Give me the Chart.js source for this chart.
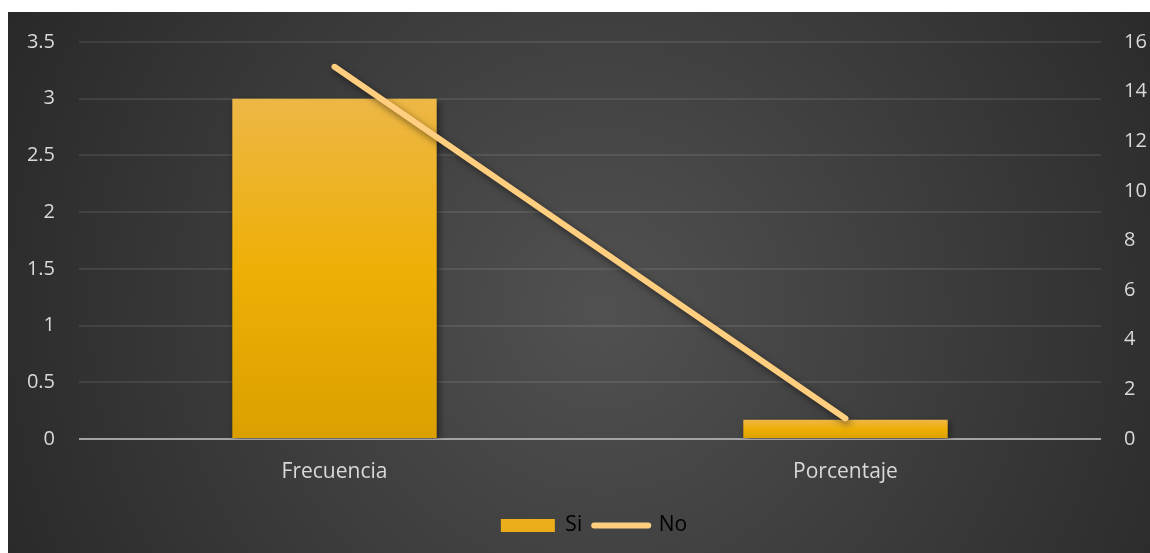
<!DOCTYPE html>
<html>
<head>
<meta charset="utf-8">
<script src="https://cdn.jsdelivr.net/npm/chart.js@4.4.0/dist/chart.umd.min.js"></script>
<style>
  html, body { margin: 0; padding: 0; background: #fff; }
  #wrap { position: absolute; left: 8px; top: 12px; width: 1142px; height: 541px; }
</style>
</head>
<body>
<div id="wrap"><canvas id="myChart"></canvas></div>
<script>
const categories = ['Frecuencia', 'Porcentaje'];
const siValues = [3, 0.17];
const noValues = [15, 0.83];
const leftTicks = [0, 0.5, 1, 1.5, 2, 2.5, 3, 3.5];
const rightTicks = [0, 2, 4, 6, 8, 10, 12, 14, 16];

const textColor = '#d9d9d9';
const lineColor = '#ffcf7f';
const fontFam = "'Open Sans', sans-serif";

// dark radial background
const bgPlugin = {
	id: 'bg',
	beforeDraw(chart){
		const c = chart.ctx, w = chart.width, h = chart.height;
		const g = c.createRadialGradient(w * 0.52, h * 0.55, 0, w * 0.52, h * 0.55, w * 0.62);
		g.addColorStop(0, '#515151');
		g.addColorStop(1, '#262626');
		c.save();
		c.fillStyle = g;
		c.fillRect(0, 0, w, h);
		c.restore();
	}
};

// soft shadow under the marks
const shadowPlugin = {
	id: 'shadow',
	beforeDatasetDraw(chart, args){
		const c = chart.ctx;
		c.save();
		c.shadowColor = 'rgba(0,0,0,0.5)';
		c.shadowBlur = 7;
		c.shadowOffsetX = 2;
		c.shadowOffsetY = 3;
	},
	afterDatasetDraw(chart){
		chart.ctx.restore();
	}
};

// legend sits a little right of centre in the original
const legendShift = {
	id: 'legendShift',
	afterLayout(chart){
		if (chart.legend) { chart.legend.left += 15; chart.legend.right += 15; }
	}
};

function barFill(context){
	const chart = context.chart;
	const y = chart.scales.y;
	if (!chart.chartArea || !y || context.raw == null) return '#ebae1a';
	const top = y.getPixelForValue(context.raw);
	const base = y.getPixelForValue(0);
	if (!isFinite(top) || base - top < 1) return '#ebae1a';
	const g = chart.ctx.createLinearGradient(0, top, 0, base);
	g.addColorStop(0, '#edb746');
	g.addColorStop(0.5, '#eeaf05');
	g.addColorStop(1, '#dba000');
	return g;
}

function noPad(scale){
	scale.paddingTop = 0;
	scale.paddingBottom = 0;
}

const ctx = document.getElementById('myChart').getContext('2d');
const myChart = new Chart(ctx, {
	type: 'bar',
	data: {
		labels: categories,
		datasets: [{
			label: 'Si',
			data: siValues,
			backgroundColor: barFill,
			borderWidth: 0,
			categoryPercentage: 0.8,
			barPercentage: 0.5,
			yAxisID: 'y',
			order: 1
		}, {
			type: 'line',
			label: 'No',
			data: noValues,
			borderColor: lineColor,
			backgroundColor: lineColor,
			borderWidth: 6,
			borderCapStyle: 'round',
			pointRadius: 0,
			pointHoverRadius: 0,
			yAxisID: 'y1',
			order: 0
		}]
	},
	options: {
		responsive: true,
		maintainAspectRatio: false,
		animation: false,
		layout: {
			padding: { top: 30, left: 0, right: 0, bottom: 7 }
		},
		plugins: {
			tooltip: { enabled: false },
			legend: {
				position: 'bottom',
				labels: {
					color: textColor,
					font: { family: fontFam, size: 21 },
					usePointStyle: true,
					boxHeight: 13,
					pointStyleWidth: 54,
					padding: 12,
					generateLabels: function(chart){
						return [{
							text: 'Si', fillStyle: '#ebae1a', strokeStyle: '#ebae1a', lineWidth: 0,
							pointStyle: 'rect', datasetIndex: 0, hidden: false
						}, {
							text: 'No', fillStyle: lineColor, strokeStyle: lineColor, lineWidth: 6,
							lineCap: 'round', pointStyle: 'line', datasetIndex: 1, hidden: false
						}];
					}
				}
			}
		},
		scales: {
			x: {
				grid: { display: false },
				border: { display: false },
				ticks: { color: textColor, font: { family: fontFam, size: 21 }, padding: 12 },
				afterFit: function(scale){ scale.height = 64; }
			},
			y: {
				position: 'left',
				min: 0,
				max: 3.5,
				border: { display: false },
				grid: {
					drawTicks: false,
					lineWidth: 2,
					color: function(c){ return c.tick && c.tick.value === 0 ? '#a3a3a3' : 'rgba(255,255,255,0.09)'; }
				},
				ticks: {
					color: textColor, font: { family: fontFam, size: 20 }, padding: 24,
					callback: function(v){ return String(v); }
				},
				afterBuildTicks: function(scale){ scale.ticks = leftTicks.map(v => ({ value: v })); },
				afterFit: function(scale){ scale.width = 71; noPad(scale); }
			},
			y1: {
				position: 'right',
				min: 0,
				max: 16,
				border: { display: false },
				grid: { display: false, drawTicks: false },
				ticks: {
					color: textColor, font: { family: fontFam, size: 20 }, padding: 23,
					callback: function(v){ return String(v); }
				},
				afterBuildTicks: function(scale){ scale.ticks = rightTicks.map(v => ({ value: v })); },
				afterFit: function(scale){ scale.width = 49; noPad(scale); }
			}
		}
	},
	plugins: [bgPlugin, shadowPlugin, legendShift]
});
</script>
</body>
</html>
